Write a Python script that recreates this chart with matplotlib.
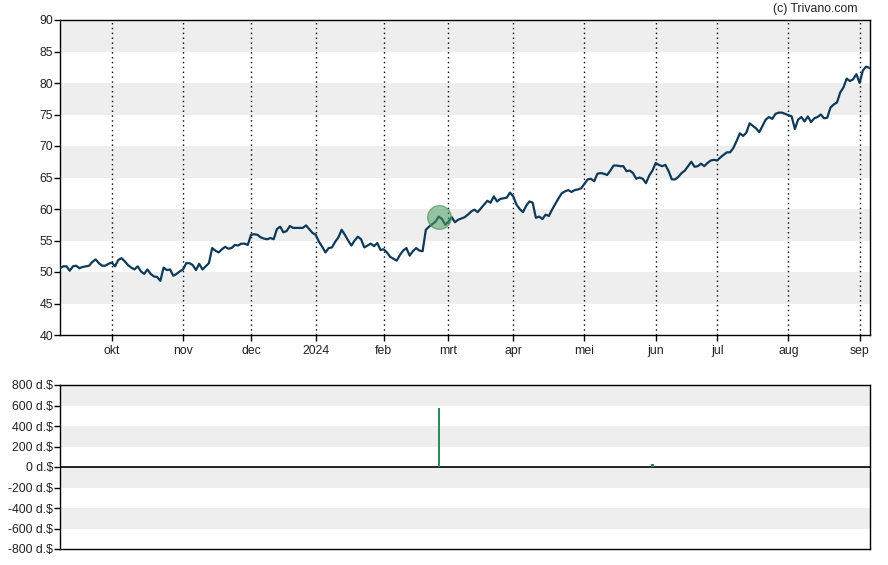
import numpy as np
import pandas as pd
import matplotlib
matplotlib.use("Agg")
import matplotlib.pyplot as plt

# ---------------- data ----------------
start_date = "2023-09-08"
end_date = "2024-09-06"
holidays = ["2023-11-23", "2023-12-25", "2024-01-01", "2024-01-15", "2024-02-19",
            "2024-03-29", "2024-05-27", "2024-06-19", "2024-07-04", "2024-09-02"]

prices = [
    50.6, 50.9, 50.9, 50.2, 50.9, 51.0, 50.6, 50.8, 50.9, 51.0,
    51.6, 52.0, 51.4, 51.0, 51.0, 51.3, 51.5, 50.9, 51.9, 52.2,
    51.7, 51.1, 50.7, 50.4, 50.9, 50.1, 49.7, 50.4, 49.7, 49.3,
    49.2, 48.6, 50.7, 50.3, 50.4, 49.4, 49.7, 50.1, 50.4, 51.4,
    51.4, 51.1, 50.3, 51.3, 50.4, 50.9, 51.4, 53.8, 53.4, 53.1,
    53.6, 54.0, 53.7, 53.8, 54.3, 54.2, 54.5, 54.5, 54.3, 55.9,
    56.0, 55.9, 55.5, 55.3, 55.2, 55.4, 55.2, 56.8, 57.2, 56.3,
    56.5, 57.3, 57.0, 57.0, 57.0, 57.0, 57.4, 56.8, 56.2, 55.9,
    54.8, 54.0, 53.1, 53.8, 53.9, 54.8, 55.5, 56.7, 55.9, 55.0,
    54.2, 55.0, 55.6, 55.2, 53.9, 54.2, 54.5, 54.1, 54.6, 53.5,
    53.6, 53.1, 52.4, 52.1, 51.8, 52.7, 53.4, 53.8, 52.6, 53.3,
    53.8, 53.4, 53.3, 56.7, 57.2, 57.6, 58.0, 58.8, 58.4, 57.5,
    58.0, 58.7, 57.9, 58.3, 58.5, 58.7, 59.1, 59.6, 59.9, 59.5,
    60.1, 60.7, 61.3, 61.0, 62.0, 61.2, 61.6, 61.7, 61.8, 62.6,
    62.0, 60.7, 60.0, 59.5, 60.5, 61.2, 61.0, 58.6, 58.8, 58.4,
    59.1, 58.9, 59.9, 60.8, 61.7, 62.5, 62.8, 63.0, 62.7, 63.0,
    63.1, 63.3, 64.0, 64.7, 64.8, 64.4, 65.6, 65.7, 65.6, 65.4,
    66.1, 66.9, 66.9, 66.8, 66.8, 66.0, 66.1, 65.7, 64.8, 65.0,
    64.8, 64.1, 65.3, 66.1, 67.3, 67.0, 66.8, 67.0, 66.0, 64.7,
    64.7, 65.1, 65.7, 66.1, 66.8, 67.5, 66.7, 66.8, 67.2, 66.8,
    67.3, 67.7, 67.8, 67.7, 68.2, 68.6, 69.0, 69.0, 69.7, 70.8,
    72.0, 71.6, 72.1, 73.6, 73.2, 72.8, 72.2, 73.2, 74.2, 74.6,
    74.3, 75.1, 75.3, 75.3, 75.1, 74.9, 74.7, 72.7, 74.2, 74.6,
    73.9, 74.7, 73.8, 74.4, 74.6, 75.0, 74.4, 74.5, 76.1, 76.6,
    76.9, 78.5, 79.3, 80.7, 80.3, 80.6, 81.4, 80.0, 82.0, 82.6, 82.4,
]

marker_dates = ["2024-02-27"]
trade_dates = ["2024-02-27", "2024-05-31"]
trade_values = [580, 30]

month_labels = ["okt", "nov", "dec", "2024", "feb", "mrt", "apr", "mei", "jun", "jul", "aug", "sep"]
price_ticks = [40, 45, 50, 55, 60, 65, 70, 75, 80, 85, 90]
trade_ticks = [-800, -600, -400, -200, 0, 200, 400, 600, 800]

# ---------------- derived ----------------
cbd = pd.offsets.CustomBusinessDay(holidays=holidays)
dates = pd.date_range(start_date, end_date, freq=cbd)[:len(prices)]
idx = np.arange(len(dates))
pos = {d.strftime("%Y-%m-%d"): i for i, d in enumerate(dates)}

month_pos = []
prev = dates[0].month
for i, d in enumerate(dates):
    if d.month != prev:
        month_pos.append(i)
        prev = d.month

plt.rcParams['font.family'] = ['Liberation Sans', 'DejaVu Sans']
FS = 8.8

fig = plt.figure(figsize=(8.88, 5.65), dpi=100)
W, H = 888, 565
ax = fig.add_axes([60 / W, 1 - 335 / H, 810 / W, 315 / H])
ax2 = fig.add_axes([60 / W, 1 - 549 / H, 810 / W, 164 / H])

xmax = len(prices) - 0.8

# top panel
for k, lo in enumerate(price_ticks[:-1]):
    if k % 2 == 1:
        ax.axhspan(lo, lo + 5, color="#eeeeee", lw=0, zorder=0)
for p in month_pos:
    ax.axvline(p, color="black", lw=1.0, ls=(0, (1, 2.5)), zorder=1)
ax.plot(idx, prices, color="#0e3a5a", lw=1.6, zorder=3, solid_joinstyle="round")
for md in marker_dates:
    i = pos[md]
    ax.plot([i], [prices[i]], "o", ms=17, mfc=(0.30, 0.62, 0.38, 0.55),
            mec=(0.30, 0.60, 0.38, 0.7), mew=1, zorder=4)
ax.set_xlim(0, xmax)
ax.set_ylim(40, 90)
ax.set_yticks(price_ticks)
ax.set_yticklabels([str(t) for t in price_ticks])
ax.set_xticks(month_pos)
ax.set_xticklabels(month_labels[:len(month_pos)])
ax.tick_params(axis="y", labelsize=FS, colors="black", labelcolor="#222222", length=4, width=1, pad=1)
ax.tick_params(axis="x", labelsize=FS, colors="black", labelcolor="#222222", length=4, width=1, pad=3)
for s in ax.spines.values():
    s.set_linewidth(1.0)

# bottom panel
bands = [(600, 800), (200, 400), (-200, 0), (-600, -400)]
for lo, hi in bands:
    ax2.axhspan(lo, hi, color="#eeeeee", lw=0, zorder=0)
ax2.axhline(0, color="black", lw=1.2, zorder=2)
bx = [pos[d] for d in trade_dates]
ax2.bar(bx, trade_values, width=0.7, color="#2e8b57", zorder=3)
ax2.set_xlim(0, xmax)
ax2.set_ylim(-800, 800)
ax2.set_yticks(trade_ticks)
ax2.set_yticklabels([f"{t} d.$" for t in trade_ticks])
ax2.set_xticks([])
ax2.tick_params(axis="y", labelsize=FS, colors="black", labelcolor="#222222", length=4, width=1, pad=1)
for s in ax2.spines.values():
    s.set_linewidth(1.0)

fig.text(858 / W, 1 - 9 / H, "(c) Trivano.com", ha="right", va="center", fontsize=FS, color="#222222")

fig.savefig("out.png", dpi=100)
